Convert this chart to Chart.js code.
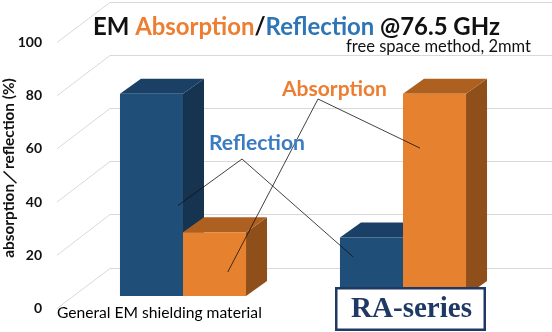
<!DOCTYPE html>
<html>
<head>
<meta charset="utf-8">
<title>EM Absorption/Reflection @76.5 GHz</title>
<script src="https://cdn.jsdelivr.net/npm/chart.js@4.4.1/dist/chart.umd.min.js"></script>
<style>
  html, body { margin: 0; padding: 0; background: #fff; }
  #wrap { width: 552px; height: 332px; }
</style>
</head>
<body>
<div id="wrap"><canvas id="chart" width="552" height="332"></canvas></div>
<script>
// ===========================
// DATA
// ===========================
const categories = ['General EM shielding material', 'RA-series'];
const reflection = [76, 22];
const absorption = [24, 76];
const yTicks = [0, 20, 40, 60, 80, 100];

// ===========================
// STYLE
// ===========================
const BLUE = { front: '#1F4E79', top: '#1A4066', side: '#16334F' };
const ORANGE = { front: '#E6822F', top: '#AE6020', side: '#8E4F1B' };
const DEPTH = { dx: 21, dy: -15 };      // bar depth (top / side faces)
const FRONT_OFF = 12.5;                 // front floor plane below bar plane
const BACK_OFF = -28.5;                 // back wall above bar plane
const GRID = '#d9d9d9';
const SANS = 'Lato, "Open Sans", sans-serif';

// fit a font size so that text spans the given width
function fitFont(ctx, text, weight, family, width) {
  ctx.font = weight + ' 100px ' + family;
  const w = ctx.measureText(text).width;
  return weight + ' ' + (100 * width / w).toFixed(2) + 'px ' + family;
}

function poly(ctx, pts, color) {
  ctx.beginPath();
  ctx.moveTo(pts[0][0], pts[0][1]);
  for (let i = 1; i < pts.length; i++) ctx.lineTo(pts[i][0], pts[i][1]);
  ctx.closePath();
  ctx.fillStyle = color;
  ctx.fill();
}

// ===========================
// PLUGIN: back wall + 3D faces
// ===========================
const wallPlugin = {
  id: 'wall',
  beforeDatasetsDraw(chart) {
    const ctx = chart.ctx;
    const y = chart.scales.y;
    ctx.save();

    // gridlines on back wall + diagonals to front labels
    ctx.strokeStyle = GRID;
    ctx.lineWidth = 1;
    yTicks.forEach(v => {
      const py = y.getPixelForValue(v);
      const back = Math.round(py + BACK_OFF) + 0.5;
      ctx.beginPath();
      ctx.moveTo(57, py + FRONT_OFF);
      ctx.lineTo(110, back);
      ctx.lineTo(552, back);
      ctx.stroke();
    });

    // tick labels on the front plane
    ctx.fillStyle = '#111';
    ctx.font = 'bold 14px ' + SANS;
    ctx.textAlign = 'right';
    ctx.textBaseline = 'middle';
    yTicks.forEach(v => {
      ctx.fillText(String(v), 42, y.getPixelForValue(v) + FRONT_OFF);
    });

    // top and side faces of the bars (drawn before the fronts)
    const colors = [BLUE, ORANGE];
    for (let i = 0; i < categories.length; i++) {
      chart.data.datasets.forEach((ds, d) => {
        const bar = chart.getDatasetMeta(d).data[i];
        const l = bar.x - bar.width / 2, r = bar.x + bar.width / 2;
        const t = bar.y, b = bar.base;
        const c = colors[d];
        poly(ctx, [[r, t], [r + DEPTH.dx, t + DEPTH.dy], [r + DEPTH.dx, b + DEPTH.dy], [r, b]], c.side);
        poly(ctx, [[l, t], [l + DEPTH.dx, t + DEPTH.dy], [r + DEPTH.dx, t + DEPTH.dy], [r, t]], c.top);
      });
    }
    ctx.restore();
  },

  afterDatasetsDraw(chart) {
    const ctx = chart.ctx;
    const y = chart.scales.y;
    const barAt = (d, i) => chart.getDatasetMeta(d).data[i];
    ctx.save();
    ctx.textBaseline = 'alphabetic';
    ctx.textAlign = 'left';

    // title in several colours
    const parts = [
      ['EM ', '#111'], ['Absorption', '#ED7D31'], ['/', '#111'],
      ['Reflection', '#2E75B6'], [' @76.5 GHz', '#111']
    ];
    ctx.font = fitFont(ctx, parts.map(p => p[0]).join(''), 'bold', SANS, 407);
    let tx = 93;
    parts.forEach(p => {
      ctx.fillStyle = p[1];
      ctx.fillText(p[0], tx, 35);
      tx += ctx.measureText(p[0]).width;
    });

    // subtitle
    ctx.fillStyle = '#111';
    ctx.font = fitFont(ctx, 'free space method, 2mmt', 'normal', SANS, 185);
    ctx.fillText('free space method, 2mmt', 346, 52);

    // y axis title
    ctx.save();
    ctx.translate(14, 168);
    ctx.rotate(-Math.PI / 2);
    ctx.textAlign = 'center';
    ctx.font = fitFont(ctx, 'absorption／reflection (%)', 'bold', SANS, 180);
    ctx.fillText('absorption／reflection (%)', 0, 0);
    ctx.restore();

    // leader lines: vertex -> point inside each bar (fraction of width, value)
    ctx.strokeStyle = '#111';
    ctx.lineWidth = 0.8;
    const leader = (vx, vy, targets) => {
      targets.forEach(([d, i, fx, val]) => {
        const bar = barAt(d, i);
        ctx.beginPath();
        ctx.moveTo(vx, vy);
        ctx.lineTo(bar.x + fx * bar.width, y.getPixelForValue(val));
        ctx.stroke();
      });
    };
    leader(242, 159, [[0, 0, 0.42, 34], [0, 1, -0.29, 14.7]]);
    leader(318, 99, [[1, 0, 0.21, 9], [1, 1, -0.23, 55.6]]);

    // series annotations
    ctx.fillStyle = '#3A7CC2';
    ctx.font = fitFont(ctx, 'Reflection', 'bold', SANS, 96);
    ctx.fillText('Reflection', 209, 150);
    ctx.fillStyle = '#ED7D31';
    ctx.font = fitFont(ctx, 'Absorption', 'bold', SANS, 105);
    ctx.fillText('Absorption', 282, 96);

    // category labels
    ctx.fillStyle = '#000';
    ctx.font = fitFont(ctx, categories[0], 'normal', SANS, 205);
    ctx.fillText(categories[0], 57, 318);

    // RA-series box
    ctx.fillStyle = '#fff';
    ctx.fillRect(335, 287, 151, 44);
    ctx.strokeStyle = '#1F3864';
    ctx.lineWidth = 2.5;
    ctx.strokeRect(336.25, 288.25, 148.5, 41.5);
    ctx.fillStyle = '#1F3864';
    ctx.font = fitFont(ctx, categories[1], 'bold', '"Liberation Serif", serif', 121);
    ctx.fillText(categories[1], 351, 317);

    ctx.restore();
  }
};

// ===========================
// CHART
// ===========================
new Chart(document.getElementById('chart'), {
  type: 'bar',
  data: {
    labels: categories,
    datasets: [
      { label: 'Reflection', data: reflection, backgroundColor: BLUE.front, borderWidth: 0 },
      { label: 'Absorption', data: absorption, backgroundColor: ORANGE.front, borderWidth: 0 }
    ]
  },
  options: {
    responsive: false,
    animation: false,
    layout: { padding: { left: 73, right: 39, top: 30, bottom: 36 } },
    plugins: { legend: { display: false }, tooltip: { enabled: false } },
    datasets: { bar: { barPercentage: 1, categoryPercentage: 0.573 } },
    scales: {
      x: { display: false },
      y: { display: false, min: 0, max: 100 }
    }
  },
  plugins: [wallPlugin]
});
</script>
</body>
</html>
